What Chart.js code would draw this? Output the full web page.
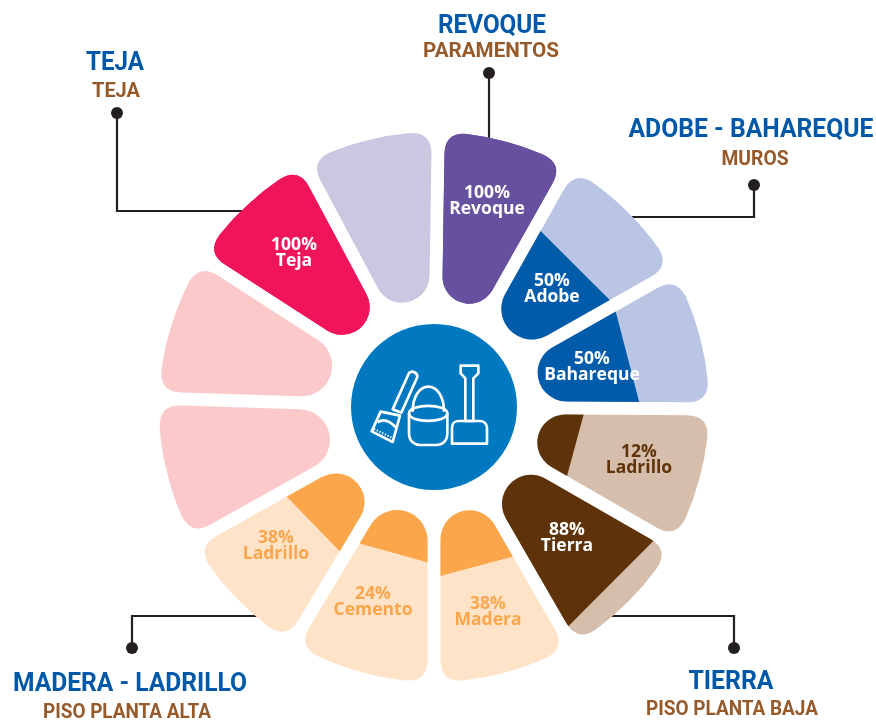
<!DOCTYPE html>
<html lang="es">
<head>
<meta charset="utf-8">
<title>Materiales de construcción</title>
<style>
  html, body { margin: 0; padding: 0; background: #fff; }
  canvas { display: block; }
</style>
<script src="https://cdn.jsdelivr.net/npm/chart.js@4/dist/chart.umd.js"></script>
</head>
<body>
<canvas id="wheel" width="876" height="722"></canvas>
<script>
// values, clockwise from 12 o'clock
const categories = ["Revoque", "Adobe", "Bahareque", "Ladrillo", "Tierra", "Madera", "Cemento", "Ladrillo", "", "", "Teja", ""];
const shareLabels = ["100%", "50%", "50%", "12%", "88%", "38%", "24%", "38%", "", "", "100%", ""];
const fullValues = [100, 100, 100, 100, 100, 100, 100, 100, 100, 100, 100, 100];
// how far the dark fill reaches in each petal
const fillValues = [100, 55, 55, 23, 85, 34, 26, 36, 0, 0, 100, 0];
// petals are not all the same width in the picture
const petalSweeps = [28.5, 31.1, 29.9, 29.5, 30.1, 30, 31, 29.8, 31, 31, 29.1, 29];

const darkColors = ["#67509f", "#005baa", "#005baa", "#5f3309", "#5f3309", "#fba64b", "#fba64b", "#fba64b", "#fbc9c9", "#fbc9c9", "#f0145a", "#ccc6e1"];
const lightColors = ["#67509f", "#bac5e3", "#bac5e3", "#d5beab", "#d5beab", "#fee3c9", "#fee3c9", "#fee3c9", "#fbc9c9", "#fbc9c9", "#f0145a", "#ccc6e1"];
const labelColors = ["#fff", "#fff", "#fff", "#5f3309", "#fff", "#fba64b", "#fba64b", "#fba64b", "#fff", "#fff", "#fff", "#fff"];
const labelCenters = [[487, 201], [552, 289], [592, 367], [639, 460], [567, 538], [488, 612], [373, 602], [276, 546], null, null, [294, 253], null];

const headings = ["TEJA", "REVOQUE", "ADOBE - BAHAREQUE", "TIERRA", "MADERA - LADRILLO"];
const subheadings = ["TEJA", "PARAMENTOS", "MUROS", "PISO PLANTA BAJA", "PISO PLANTA ALTA"];

// layout of the call-outs: [x, y, max width]
const headingBoxes = [[115, 63, 58], [492, 26, 108], [751, 130, 245], [731, 682, 85], [130, 684, 234]];
const subheadingBoxes = [[116, 92, 48], [491, 52, 136], [755, 160, 67], [732, 710, 172], [127, 713, 168]];
const leaders = [
  [[117, 113], [117, 211], [250, 211]],
  [[489, 73], [489, 145]],
  [[754, 185], [754, 217], [625, 217]],
  [[734, 648], [734, 616], [600, 616]],
  [[132, 648], [132, 616], [265, 616]],
];

const INK = "#231f20";
const BLUE = "#0059a8";
const BROWN = "#96592a";
const GAP = 6.5; // half of the white gap between petals
const CORNER = 22;

function drawLeaders(ctx) {
  ctx.strokeStyle = INK;
  ctx.fillStyle = INK;
  ctx.lineWidth = 2.2;
  leaders.forEach((pts) => {
    ctx.beginPath();
    pts.forEach((p, i) => (i ? ctx.lineTo(p[0], p[1]) : ctx.moveTo(p[0], p[1])));
    ctx.stroke();
    ctx.beginPath();
    ctx.arc(pts[0][0], pts[0][1], 6, 0, Math.PI * 2);
    ctx.fill();
  });
}

function drawHeadings(ctx) {
  ctx.textAlign = "center";
  ctx.textBaseline = "middle";
  headings.forEach((text, i) => {
    const box = headingBoxes[i];
    ctx.font = "700 26px Roboto";
    ctx.fillStyle = BLUE;
    ctx.fillText(text, box[0], box[1], box[2]);
    const sub = subheadingBoxes[i];
    ctx.font = "700 21px Roboto";
    ctx.fillStyle = BROWN;
    ctx.fillText(subheadings[i], sub[0], sub[1], sub[2]);
  });
}

function drawCaptions(ctx) {
  ctx.textAlign = "center";
  ctx.textBaseline = "middle";
  ctx.font = "700 17.5px 'Open Sans'";
  categories.forEach((name, i) => {
    if (!name) return;
    const [x, y] = labelCenters[i];
    ctx.fillStyle = labelColors[i];
    ctx.fillText(shareLabels[i], x, y - 8);
    ctx.fillText(name, x, y + 8);
  });
}

function drawHub(chart) {
  const ctx = chart.ctx;
  const scale = chart.scales.r;
  ctx.save();
  ctx.fillStyle = "#0079c1";
  ctx.beginPath();
  ctx.arc(scale.xCenter, scale.yCenter, 83, 0, Math.PI * 2);
  ctx.fill();

  // broom, bucket and shovel
  ctx.translate(scale.xCenter - 94, scale.yCenter - 92);
  ctx.scale(1 / 3, 1 / 3);
  ctx.strokeStyle = "#fff";
  ctx.lineWidth = 8;
  ctx.lineJoin = "round";
  [
    "M207 174 A15 15 0 0 1 232 186 L184 293 L158 283 Z",
    "M122 290 L180 302 L158 381 L95 349 Z",
    "M113 322 C130 310 150 318 170 340",
    "M218 290 C218 190 312 190 312 290",
    "M207 295 C207 265 322 265 322 295 C322 325 207 325 207 295 Z",
    "M207 295 L207 355 C207 380 225 390 240 390 L290 390 C305 390 322 380 322 355 L322 295",
    "M362 152 L415 152 L415 175 L400 190 L400 318 L376 318 L376 190 L362 175 Z",
    "M336 386 L441 386 L441 338 C441 325 430 318 420 318 L356 318 C345 318 336 325 336 338 Z",
  ].forEach((d) => ctx.stroke(new Path2D(d)));
  ctx.setLineDash([4, 5]);
  ctx.lineWidth = 6;
  ctx.stroke(new Path2D("M102 342 L160 370"));
  ctx.restore();
}

// rounded petal for an arc element: round inner end, parallel gaps, soft outer corners
function petalPath(ctx, arc, tip, outer) {
  const a = arc.startAngle, b = arc.endAngle, half = (b - a) / 2, mid = a + half;
  const s = Math.sin(half);
  const rho = (tip * s - GAP) / (1 - s);
  const d = (rho + GAP) / s;
  const foot = d * Math.cos(half);
  const far = Math.sqrt(outer * outer - GAP * GAP);
  const lean = Math.asin(GAP / outer);
  const bend = CORNER / outer;
  const onStart = (t) => [arc.x + t * Math.cos(a) - GAP * Math.sin(a), arc.y + t * Math.sin(a) + GAP * Math.cos(a)];
  const onEnd = (t) => [arc.x + t * Math.cos(b) + GAP * Math.sin(b), arc.y + t * Math.sin(b) - GAP * Math.cos(b)];
  const rim = (ang) => [arc.x + outer * Math.cos(ang), arc.y + outer * Math.sin(ang)];

  ctx.beginPath();
  ctx.moveTo(...onStart(foot));
  ctx.lineTo(...onStart(far - CORNER));
  ctx.quadraticCurveTo(...onStart(far), ...rim(a + lean + bend));
  ctx.arc(arc.x, arc.y, outer, a + lean + bend, b - lean - bend);
  ctx.quadraticCurveTo(...onEnd(far), ...onEnd(far - CORNER));
  ctx.lineTo(...onEnd(foot));
  ctx.arc(arc.x + d * Math.cos(mid), arc.y + d * Math.sin(mid), rho, b + Math.PI / 2, a + 1.5 * Math.PI);
  ctx.closePath();
}

const petalPlugin = {
  id: "petals",
  beforeDatasetsDraw(chart) {
    drawLeaders(chart.ctx);
  },
  beforeDatasetDraw(chart, args) {
    const ctx = chart.ctx;
    const scale = chart.scales.r;
    const tip = scale.getDistanceFromCenterForValue(0);
    const full = scale.getDistanceFromCenterForValue(100);
    args.meta.data.forEach((arc) => {
      // the fill has the full petal shape, cut off by a straight line at its value
      const reach = arc.outerRadius;
      const mid = (arc.startAngle + arc.endAngle) / 2;
      const cx = Math.cos(mid), cy = Math.sin(mid);
      ctx.save();
      ctx.beginPath();
      ctx.moveTo(arc.x + cx * reach - cy * 500, arc.y + cy * reach + cx * 500);
      ctx.lineTo(arc.x + cx * reach + cy * 500, arc.y + cy * reach - cx * 500);
      ctx.lineTo(arc.x - cx * 100 + cy * 500, arc.y - cy * 100 - cx * 500);
      ctx.lineTo(arc.x - cx * 100 - cy * 500, arc.y - cy * 100 + cx * 500);
      ctx.closePath();
      ctx.clip();
      petalPath(ctx, arc, tip, full);
      ctx.fillStyle = arc.options.backgroundColor;
      ctx.fill();
      ctx.restore();
    });
    return false;
  },
  afterDatasetsDraw(chart) {
    drawHub(chart);
    drawCaptions(chart.ctx);
    drawHeadings(chart.ctx);
  },
};

new Chart(document.getElementById("wheel"), {
  type: "polarArea",
  data: {
    labels: categories,
    datasets: [
      { label: "Fill", data: fillValues, backgroundColor: darkColors, borderWidth: 0, angle: (c) => petalSweeps[c.dataIndex] },
      { label: "Full", data: fullValues, backgroundColor: lightColors, borderWidth: 0, angle: (c) => petalSweeps[c.dataIndex] },
    ],
  },
  options: {
    responsive: false,
    animation: false,
    layout: { padding: { top: 132, left: 159, right: 167, bottom: 40 } },
    scales: { r: { display: false, min: -64.7, max: 100, startAngle: 0.9 } },
    plugins: { legend: { display: false }, tooltip: { enabled: false } },
  },
  plugins: [petalPlugin],
});
</script>
</body>
</html>
